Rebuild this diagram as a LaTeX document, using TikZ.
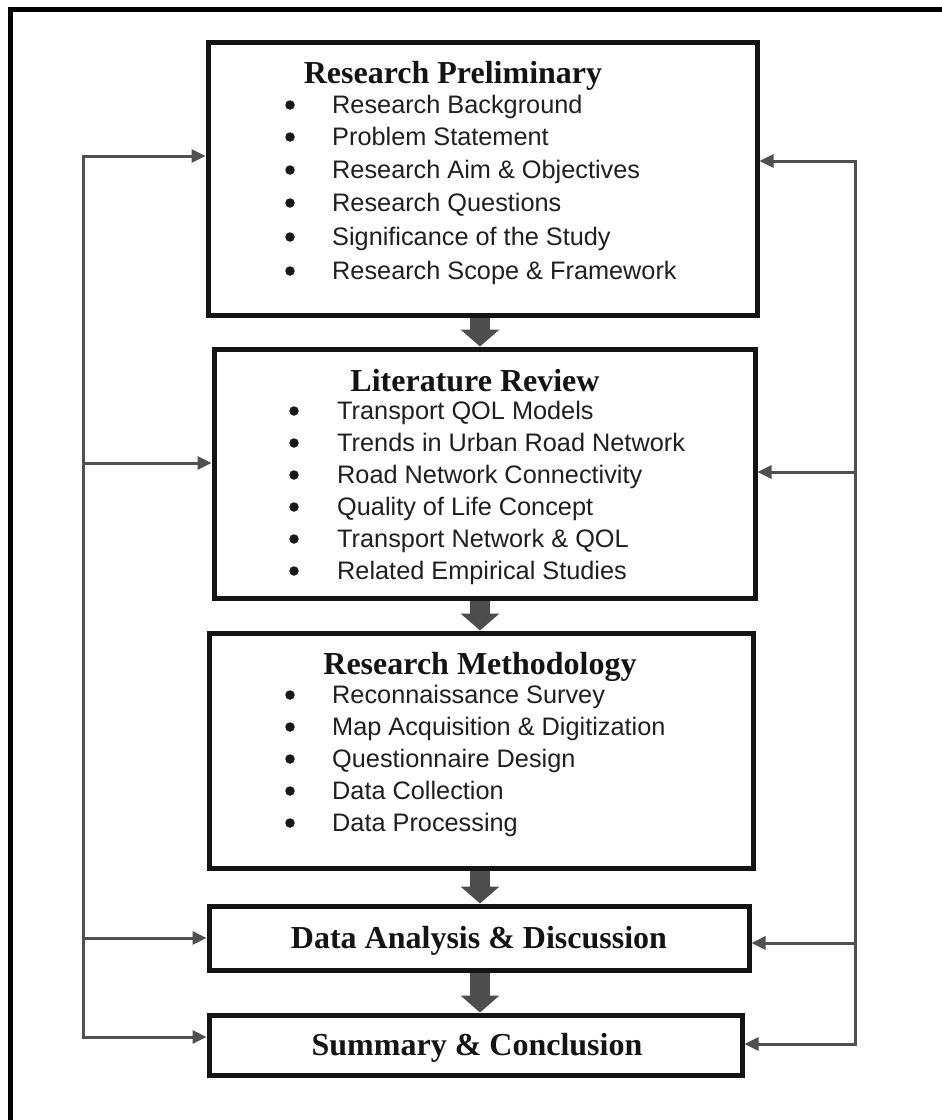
\documentclass[tikz,border=0pt]{standalone}
\usepackage{fontspec}
\setmainfont{Liberation Serif}
\newfontfamily\itemfont{Liberation Sans}
\usetikzlibrary{arrows.meta}
\definecolor{fbgray}{HTML}{505050}
\definecolor{bigarrow}{HTML}{4D4D4D}
\definecolor{boxline}{HTML}{141414}
\begin{document}
\begin{tikzpicture}[x=1pt,y=-1pt,
  box/.style={draw=boxline, line width=5pt, inner sep=0pt},
  ttl/.style={font=\fontsize{32}{32}\selectfont\bfseries, inner sep=0pt, anchor=base, text=black!92},
  itm/.style={font=\itemfont\fontsize{25.3}{25.3}\selectfont, inner sep=0pt, anchor=base west, text=black!88},
  bul/.style={circle, fill=black!90, inner sep=0pt, minimum size=9.5pt},
  big/.style={draw=bigarrow, line width=20pt, -{Triangle[length=17pt,width=38pt]}},
  fb/.style={draw=fbgray, line width=3pt},
  fba/.style={fb, -{Triangle[length=14pt,width=13pt]}}
]
\useasboundingbox (0,0) rectangle (942,1120);
% outer frame (only top and left edges are visible)
\draw[line width=5pt, black] (10.5,1120) -- (10.5,9.5) -- (942,9.5);

% boxes
\node[box, minimum width=549pt, minimum height=273pt] (b1) at (482.5,178.5) {};
\node[box, minimum width=541pt, minimum height=249pt] (b2) at (484.5,473.5) {};
\node[box, minimum width=544pt, minimum height=235pt] (b3) at (481,750.5) {};
\node[box, minimum width=540pt, minimum height=64pt] (b4) at (479,938) {};
\node[box, minimum width=533pt, minimum height=60pt] (b5) at (475.5,1045) {};

% titles
\node[ttl] (t1) at (453,83) {Research Preliminary};
\node[ttl] (t2) at (475,391) {Literature Review};
\node[ttl] (t3) at (480,674) {Research Methodology};
\node[ttl] (t4) at (479,948) {Data Analysis \& Discussion};
\node[ttl] (t5) at (477,1055) {Summary \& Conclusion};

% items
\foreach \t/\y [count=\i] in {Research Background/113, Problem Statement/145, Research Aim \& Objectives/178, Research Questions/211, Significance of the Study/245, Research Scope \& Framework/279}{
  \node[bul] (pb\i) at (290,\y-8) {};
  \node[itm] (p\i) at (332,\y) {\t};
}
\foreach \t [count=\i] in {Transport QOL Models, Trends in Urban Road Network, Road Network Connectivity, Quality of Life Concept, Transport Network \& QOL, Related Empirical Studies}{
  \node[bul] (lb\i) at (294,{419+32*(\i-1)-8}) {};
  \node[itm] (l\i) at (337,{419+32*(\i-1)}) {\t};
}
\foreach \t [count=\i] in {Reconnaissance Survey, Map Acquisition \& Digitization, Questionnaire Design, Data Collection, Data Processing}{
  \node[bul] (mb\i) at (290,{703+32*(\i-1)-8}) {};
  \node[itm] (m\i) at (332,{703+32*(\i-1)}) {\t};
}

% big arrows
\coordinate (ax) at (480,0);
\draw[big] (ax |- b1.south) -- (ax |- b2.north);
\draw[big] (ax |- b2.south) -- (ax |- b3.north);
\draw[big] (ax |- b3.south) -- (ax |- b4.north);
\draw[big] (ax |- b4.south) -- (ax |- b5.north);

% feedback lines
\coordinate (L1) at (83,156);
\coordinate (L2) at (83,463);
\coordinate (L4) at (83,938);
\coordinate (L5) at (83,1037);
\coordinate (R1) at (855,161);
\coordinate (R2) at (855,472);
\coordinate (R4) at (855,943);
\coordinate (R5) at (855,1044);
\draw[fba] (L2) -- (L1) -- (L1 -| b1.west);
\draw[fba] (L2) -- (L5) -- (L5 -| b5.west);
\draw[fba] (L2) -- (L2 -| b2.west);
\draw[fba] (L4) -- (L4 -| b4.west);
\draw[fba] (R2) -- (R1) -- (R1 -| b1.east);
\draw[fba] (R2) -- (R5) -- (R5 -| b5.east);
\draw[fba] (R2) -- (R2 -| b2.east);
\draw[fba] (R4) -- (R4 -| b4.east);
\end{tikzpicture}
\end{document}
